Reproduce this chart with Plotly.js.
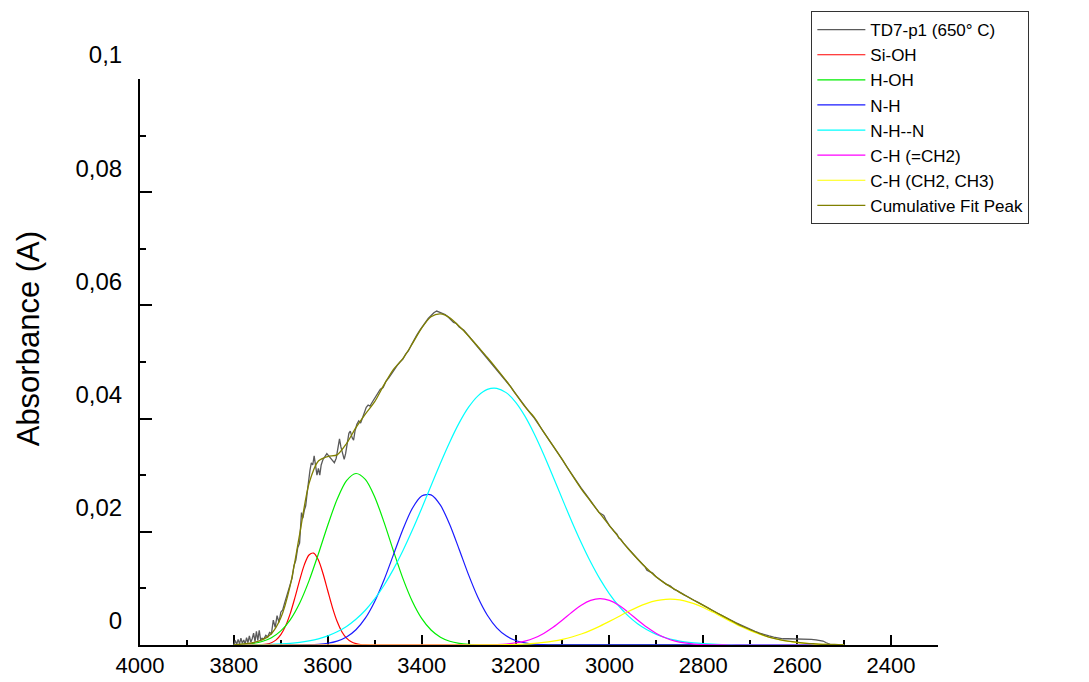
<!DOCTYPE html>
<html>
<head>
<meta charset="utf-8">
<script src="https://cdn.plot.ly/plotly-3.0.1.min.js"></script>
<style>
  html, body { margin: 0; padding: 0; background: #ffffff; }
  #plot { width: 1089px; height: 682px; }
</style>
</head>
<body>
<div id="plot"></div>
<script>
// Measured spectrum TD7-p1 (650 °C), wavenumber in cm-1, absorbance in A
const dataWn = [3800,3797,3794,3791,3788,3785,3782,3779,3776,3773,3770,3767,3764,3761,3758,3755,3752,3749,3746,3743,
  3740,3736,3732,3728,3724,3720,3716,3712,3708,3704,3700,3696,3692,3688,3684,3680,3676,3672,3668,3664,
  3660,3656,3653,3650,3647,3644,3641,3638,3635,3632,3629,3626,3623,3620,3617,3614,3610,3606,3602,3598,
  3594,3590,3586,3582,3578,3575,3572,3568,3565,3562,3558,3555,3552,3548,3545,3542,3538,3534,3530,3526,
  3522,3518,3514,3510,3506,3500,3494,3488,3482,3476,3470,3464,3458,3452,3446,3440,3434,3428,3422,3416,
  3410,3404,3398,3392,3386,3380,3374,3368,3362,3356,3350,3344,3338,3332,3326,3320,3310,3300,3290,3280,
  3270,3260,3250,3240,3230,3220,3210,3200,3190,3180,3170,3160,3150,3140,3130,3120,3110,3100,3090,3080,
  3070,3060,3050,3040,3030,3022,3016,3012,3008,3000,2990,2984,2980,2976,2970,2960,2950,2940,2930,2924,
  2920,2914,2908,2900,2890,2880,2870,2866,2862,2856,2850,2840,2830,2820,2810,2800,2790,2780,2770,2760,
  2750,2740,2730,2720,2710,2700,2690,2680,2670,2660,2650,2640,2630,2620,2610,2600,2590,2580,2570,2560,
  2550,2545,2538,2530];
const dataAbs = [0.0000,0.0008,0.0001,0.0010,0.0002,0.0012,0.0003,0.0009,0.0002,0.0013,0.0004,0.0016,0.0005,0.0011,0.0021,0.0006,0.0024,0.0008,0.0026,0.0009,
  0.0012,0.0011,0.0017,0.0014,0.0022,0.0020,0.0044,0.0031,0.0052,0.0040,0.0058,0.0062,0.0074,0.0086,0.0094,0.0108,0.0118,0.0140,0.0150,0.0172,
  0.0180,0.0234,0.0224,0.0238,0.0246,0.0268,0.0290,0.0308,0.0322,0.0318,0.0334,0.0318,0.0300,0.0312,0.0300,0.0318,0.0328,0.0333,0.0338,0.0334,
  0.0330,0.0326,0.0322,0.0330,0.0352,0.0364,0.0350,0.0334,0.0328,0.0338,0.0360,0.0374,0.0378,0.0366,0.0362,0.0378,0.0390,0.0396,0.0392,0.0402,
  0.0412,0.0420,0.0424,0.0422,0.0428,0.0436,0.0444,0.0452,0.0455,0.0466,0.0472,0.0480,0.0486,0.0494,0.0500,0.0505,0.0514,0.0520,0.0530,0.0540,
  0.0548,0.0556,0.0562,0.0570,0.0577,0.0582,0.0587,0.0590,0.0588,0.0586,0.0584,0.0580,0.0575,0.0570,0.0568,0.0562,0.0556,0.0546,0.0537,0.0527,
  0.0518,0.0508,0.0498,0.0488,0.0478,0.0467,0.0456,0.0444,0.0433,0.0420,0.0411,0.0401,0.0389,0.0376,0.0364,0.0352,0.0340,0.0327,0.0314,0.0301,
  0.0289,0.0277,0.0266,0.0255,0.0244,0.0234,0.0231,0.0229,0.0222,0.0211,0.0201,0.0196,0.0189,0.0187,0.0180,0.0170,0.0161,0.0152,0.0143,0.0138,
  0.0132,0.0130,0.0127,0.0120,0.0114,0.0108,0.0104,0.0100,0.0098,0.0096,0.0093,0.0088,0.0083,0.0079,0.0075,0.0070,0.0066,0.0061,0.0056,0.0052,
  0.0047,0.0043,0.0039,0.0035,0.0031,0.0027,0.0024,0.0021,0.0018,0.0016,0.0014,0.0012,0.0011,0.0011,0.0011,0.0011,0.0010,0.0010,0.0010,0.0009,
  0.0008,0.0007,0.0004,0.0001];

// Fitted band components
const siohWn = [3800,3750,3740,3730,3720,3710,3700,3690,3680,3670,3660,3650,3640,3630,3620,3610,3600,3590,3580,3570,3560,3550,3540,3530,3520,3510,2500];
const siohAbs = [0,0.00002,0.00006,0.00016,0.0004,0.0009,0.00182,0.00334,0.00554,0.00836,0.01142,0.01416,0.01591,0.01623,0.01501,0.01259,0.00958,0.00661,0.00414,0.00235,0.00121,0.00056,0.00024,0.00009,0.00003,0,0];

const hohWn = [3800,3780,3760,3740,3720,3700,3680,3660,3640,3620,3600,3580,3560,3540,3520,3500,3480,3460,3440,3420,3400,3380,3360,3340,3320,3300,3280,3260,2500];
const hohAbs = [0.00004,0.00011,0.00027,0.00062,0.00129,0.00249,0.00445,0.00738,0.01133,0.01609,0.02116,0.02576,0.02904,0.0303,0.02926,0.02617,0.02166,0.0166,0.01177,0.00773,0.0047,0.00265,0.00138,0.00066,0.0003,0.00012,0.00005,0,0];

const nhWn = [3800,3660,3640,3620,3600,3580,3560,3540,3520,3500,3480,3460,3440,3420,3400,3380,3360,3340,3320,3300,3280,3260,3240,3220,3200,3180,3160,3140,3120,2500];
const nhAbs = [0,0.00002,0.00005,0.00013,0.00031,0.00069,0.00142,0.0027,0.00474,0.0077,0.01153,0.01597,0.02042,0.02412,0.02632,0.02653,0.0247,0.02125,0.01688,0.01239,0.00839,0.00526,0.00304,0.00162,0.0008,0.00037,0.00015,0.00006,0.00002,0];

const nhnWn = [3800,3780,3760,3740,3720,3700,3680,3660,3640,3620,3600,3580,3560,3540,3520,3500,3480,3460,3440,3420,3400,3380,3360,3340,3320,3300,3280,3260,3240,3220,3200,3180,3160,3140,3120,3100,3080,3060,3040,3020,3000,2980,2960,2940,2920,2900,2880,2860,2840,2820,2800,2780,2760,2740,2720,2700,2500];
const nhnAbs = [0.00001,0.00002,0.00004,0.00007,0.00011,0.00019,0.0003,0.00047,0.00073,0.00109,0.00161,0.00233,0.00328,0.00454,0.00614,0.00814,0.01056,0.0134,0.01666,0.02027,0.02413,0.02814,0.03212,0.03588,0.03924,0.04201,0.04402,0.04516,0.04535,0.04459,0.04291,0.04043,0.03728,0.03366,0.02974,0.02573,0.02179,0.01807,0.01466,0.01164,0.00905,0.00689,0.00514,0.00375,0.00268,0.00187,0.00128,0.00086,0.00056,0.00036,0.00023,0.00014,0.00008,0.00005,0.00003,0.00002,0];

const ch2dWn = [3800,3300,3280,3260,3240,3220,3200,3180,3160,3140,3120,3100,3080,3060,3040,3020,3000,2980,2960,2940,2920,2900,2880,2860,2840,2820,2800,2780,2760,2740,2500];
const ch2dAbs = [0,0,0.00001,0.00003,0.00008,0.00017,0.00036,0.00069,0.00124,0.00205,0.00313,0.00442,0.0058,0.00703,0.00789,0.0082,0.00789,0.00703,0.0058,0.00442,0.00313,0.00205,0.00124,0.00069,0.00036,0.00017,0.00008,0.00003,0.00001,0,0];

const chxWn = [3800,3320,3280,3240,3200,3180,3160,3140,3120,3100,3080,3060,3040,3020,3000,2980,2960,2940,2920,2900,2880,2860,2840,2820,2800,2780,2760,2740,2720,2700,2680,2660,2640,2620,2600,2580,2560,2540,2520,2500];
const chxAbs = [0,0,0.00001,0.00004,0.00011,0.00018,0.00029,0.00045,0.00068,0.001,0.00142,0.00195,0.00259,0.00334,0.00417,0.00504,0.00591,0.0067,0.00736,0.00783,0.00807,0.00806,0.0078,0.0073,0.00663,0.00582,0.00496,0.00409,0.00326,0.00253,0.00189,0.00137,0.00097,0.00066,0.00043,0.00028,0.00017,0.0001,0.00006,0.00003];

// Cumulative fit peak
const fitWn = [3800,3780,3760,3740,3720,3700,3680,3660,3640,3620,3600,3580,3560,3540,3520,3500,3480,3460,3440,3420,3400,3380,3360,3340,3320,3300,3280,3260,3240,3220,3200,3180,3160,3140,3120,3100,3080,3060,3040,3020,3000,2980,2960,2940,2920,2900,2880,2860,2840,2820,2800,2780,2760,2740,2720,2700,2680,2660,2640,2620,2600,2580,2560,2540,2520,2500];
const fitAbs = [0.0000,0.0002,0.0004,0.0009,0.0020,0.0048,0.0105,0.0195,0.0285,0.0325,0.0333,0.0336,0.0356,0.0384,0.0408,0.0430,0.0460,0.0487,0.0506,0.0532,0.0560,0.0580,0.0585,0.0578,0.0563,0.0546,0.0527,0.0508,0.0488,0.0467,0.0444,0.0421,0.0402,0.0376,0.0352,0.0327,0.0301,0.0276,0.0254,0.0232,0.0211,0.0190,0.0170,0.0152,0.0135,0.0120,0.0108,0.0098,0.0088,0.0079,0.0070,0.0061,0.0052,0.0043,0.0034,0.0027,0.0020,0.0014,0.0010,0.0007,0.0005,0.0003,0.0002,0.0001,0.0001,0.0000];

// Axis ticks
const xTickVals = [4000,3800,3600,3400,3200,3000,2800,2600,2400];
const xTickText = ['4000','3800','3600','3400','3200','3000','2800','2600','2400'];
const yTickVals = [0,0.02,0.04,0.06,0.08,0.1];
const yTickText = ['0','0,02','0,04','0,06','0,08','0,1'];

const seriesNames = ['TD7-p1 (650° C)','Si-OH','H-OH','N-H','N-H--N','C-H (=CH2)','C-H (CH2, CH3)','Cumulative Fit Peak'];

function line(x, y, name, color, width, shape) {
  return {
    type: 'scatter', mode: 'lines', x: x, y: y, name: name,
    line: {color: color, width: width, shape: shape, smoothing: 0.8}
  };
}

const traces = [
  line(dataWn, dataAbs, seriesNames[0], '#5a5a5a', 1.3, 'linear'),
  line(siohWn, siohAbs, seriesNames[1], '#ff0000', 1.2, 'spline'),
  line(hohWn, hohAbs, seriesNames[2], '#00ee00', 1.2, 'spline'),
  line(nhWn, nhAbs, seriesNames[3], '#1a1aff', 1.2, 'spline'),
  line(nhnWn, nhnAbs, seriesNames[4], '#00ffff', 1.2, 'spline'),
  line(ch2dWn, ch2dAbs, seriesNames[5], '#ff00ff', 1.2, 'spline'),
  line(chxWn, chxAbs, seriesNames[6], '#ffff00', 1.2, 'spline'),
  line(fitWn, fitAbs, seriesNames[7], '#808000', 1.3, 'spline')
];

const font = 'Liberation Sans, Arial, sans-serif';

const layout = {
  width: 1089, height: 682,
  paper_bgcolor: '#ffffff', plot_bgcolor: '#ffffff',
  margin: {l: 140, r: 151, t: 78, b: 37, pad: 0},
  showlegend: true,
  legend: {
    x: 0.8413, y: 1.118, xanchor: 'left', yanchor: 'top',
    bgcolor: '#ffffff', bordercolor: '#333333', borderwidth: 1,
    font: {family: font, size: 17, color: '#000000'},
    itemwidth: 48,
    tracegroupgap: 0
  },
  xaxis: {
    range: [4000, 2300], showgrid: false, zeroline: false,
    showline: true, linecolor: '#000000', linewidth: 2, layer: 'below traces',
    ticks: 'inside', ticklen: 10, tickwidth: 2, tickcolor: '#000000',
    tickmode: 'array', tickvals: xTickVals, ticktext: xTickText,
    minor: {dtick: 100, tick0: 2300, ticks: 'inside', ticklen: 5, tickwidth: 2, tickcolor: '#000000'},
    tickfont: {family: font, size: 22, color: '#000000'}
  },
  yaxis: {
    range: [0, 0.1], showgrid: false, zeroline: false,
    showline: true, linecolor: '#000000', linewidth: 2,
    ticks: 'inside', ticklen: 12, tickwidth: 2, tickcolor: '#000000',
    tickmode: 'array', tickvals: yTickVals, ticktext: yTickText,
    minor: {dtick: 0.01, ticks: 'inside', ticklen: 6, tickwidth: 2, tickcolor: '#000000'},
    tickfont: {family: font, size: 24, color: '#000000'},
    ticklabelshift: -24, ticklabelstandoff: 11
  },
  annotations: [{
    text: 'Absorbance (A)', textangle: -90,
    xref: 'paper', yref: 'paper', x: -0.14, y: 0.5406,
    xanchor: 'center', yanchor: 'middle', showarrow: false,
    font: {family: font, size: 31, color: '#000000'}
  }]
};

Plotly.newPlot('plot', traces, layout, {displayModeBar: false, staticPlot: true});
</script>
</body>
</html>
